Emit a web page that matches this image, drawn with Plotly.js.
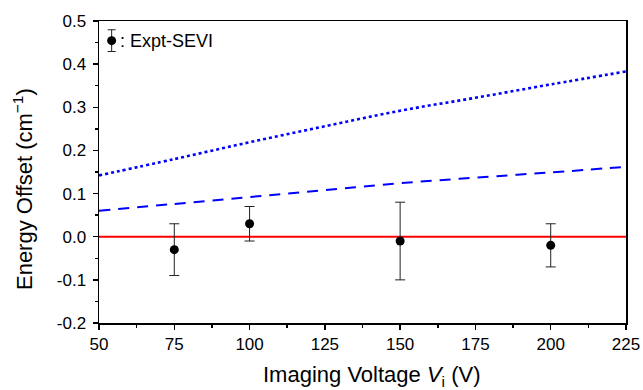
<!DOCTYPE html>
<html>
<head>
<meta charset="utf-8">
<script src="https://cdn.plot.ly/plotly-3.0.1.min.js"></script>
<style>html,body{margin:0;padding:0;background:#fff;}#chart{width:643px;height:390px;}</style>
</head>
<body>
<div id="chart"></div>
<script>
// Experimental points
const exptV = [75, 100, 150, 200];
const exptOffset = [-0.03, 0.03, -0.01, -0.02];
const exptErr = [0.06, 0.04, 0.09, 0.05];

// Model curves
const curveV = [50, 75, 100, 125, 150, 175, 200, 225];
const dottedOffset = [0.142, 0.180, 0.219, 0.256, 0.292, 0.322, 0.353, 0.383];
const dashedOffset = [0.060, 0.076, 0.092, 0.108, 0.124, 0.137, 0.149, 0.162];
const zeroV = [50, 225];
const zeroOffset = [0, 0];

const xTicks = [50, 75, 100, 125, 150, 175, 200, 225];
const yTicks = [-0.2, -0.1, 0.0, 0.1, 0.2, 0.3, 0.4, 0.5];
const yTickText = ['-0.2', '-0.1', '0.0', '0.1', '0.2', '0.3', '0.4', '0.5'];

const xTitle = 'Imaging Voltage <i>V</i><sub>i</sub> (V)';
const yTitle = 'Energy Offset (cm<sup>\u22121</sup>)';
const legendLabel = ': Expt-SEVI';

const FONT = 'Arial, "Liberation Sans", sans-serif';

const traces = [
  {x: zeroV, y: zeroOffset, mode: 'lines', line: {color: '#ff0000', width: 2}, showlegend: false, hoverinfo: 'skip'},
  {x: curveV, y: dottedOffset, mode: 'lines', line: {color: '#0000ff', width: 2.6, dash: 'dot', shape: 'spline'}, showlegend: false},
  {x: curveV, y: dashedOffset, mode: 'lines', line: {color: '#0000ff', width: 2, dash: '11px,8px', shape: 'spline'}, showlegend: false},
  {x: exptV, y: exptOffset, mode: 'markers', marker: {color: '#000', size: 9},
   error_y: {type: 'data', array: exptErr, visible: true, color: '#222', thickness: 1, width: 5},
   showlegend: false},
  // legend key (on an overlay axis spanning the plot area)
  {x: [0.024], y: [0.935], xaxis: 'x2', yaxis: 'y2', mode: 'markers', marker: {color: '#000', size: 9},
   error_y: {type: 'constant', value: 0.036, visible: true, color: '#222', thickness: 1, width: 4},
   showlegend: false, hoverinfo: 'skip'}
];

const layout = {
  width: 643, height: 390,
  margin: {l: 99, r: 17, t: 21, b: 67},
  paper_bgcolor: '#fff', plot_bgcolor: '#fff',
  font: {family: FONT, size: 17, color: '#000'},
  showlegend: false,
  xaxis: {
    range: [50, 225], tickvals: xTicks, ticks: 'outside', ticklen: 5, tickwidth: 1.5, tickcolor: '#000',
    showline: true, linecolor: '#000', linewidth: 1.5, mirror: true, showgrid: false, zeroline: false,
    minor: {dtick: 12.5, ticks: 'outside', ticklen: 3, tickwidth: 1.5, tickcolor: '#000', showgrid: false},
    tickfont: {family: FONT, size: 17}
  },
  yaxis: {
    range: [-0.2, 0.5], tickvals: yTicks, ticktext: yTickText, ticks: 'outside', ticklen: 5, tickwidth: 1.5, tickcolor: '#000',
    showline: true, linecolor: '#000', linewidth: 1.5, mirror: true, showgrid: false, zeroline: false,
    minor: {dtick: 0.05, ticks: 'outside', ticklen: 3, tickwidth: 1.5, tickcolor: '#000', showgrid: false},
    tickfont: {family: FONT, size: 17}, ticklabelstandoff: 3
  },
  xaxis2: {overlaying: 'x', range: [0, 1], visible: false, fixedrange: true},
  yaxis2: {overlaying: 'y', range: [0, 1], visible: false, fixedrange: true},
  annotations: [
    {xref: 'x2', yref: 'y2', x: 0.036, y: 0.935, xanchor: 'left', yanchor: 'middle',
     text: legendLabel, showarrow: false, font: {family: FONT, size: 18, color: '#000'}},
    {xref: 'paper', yref: 'paper', x: 0.517, y: -0.177, xanchor: 'center', yanchor: 'middle',
     text: xTitle, showarrow: false, font: {family: FONT, size: 22, color: '#000'}},
    {xref: 'paper', yref: 'paper', x: -0.144, y: 0.444, xanchor: 'center', yanchor: 'middle', textangle: -90,
     text: yTitle, showarrow: false, font: {family: FONT, size: 22, color: '#000'}}
  ]
};

Plotly.newPlot('chart', traces, layout, {displayModeBar: false, staticPlot: true});
</script>
</body>
</html>
